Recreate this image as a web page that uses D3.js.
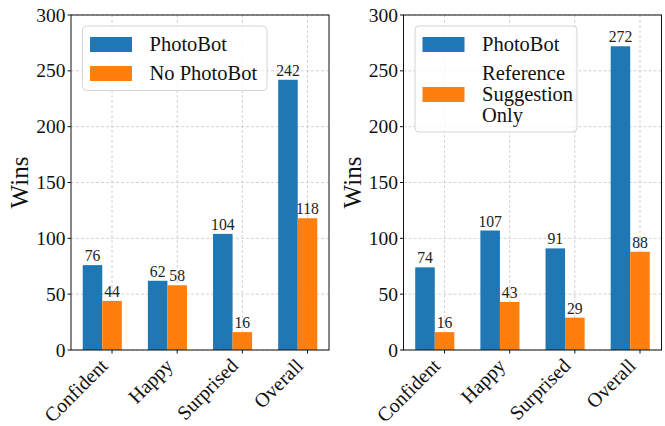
<!DOCTYPE html>
<html>
<head>
<meta charset="utf-8">
<script src="https://cdn.jsdelivr.net/npm/d3@7"></script>
<style>
  html, body { margin: 0; padding: 0; background: #fff; }
  svg { display: block; }
</style>
</head>
<body>
<div id="chart"></div>
<script>
// data
const categories = ['Confident', 'Happy', 'Surprised', 'Overall'];
const photoBotA = [76, 62, 104, 242];
const noPhotoBot = [44, 58, 16, 118];
const photoBotB = [74, 107, 91, 272];
const refSuggestion = [16, 43, 29, 88];
const yTicks = [0, 50, 100, 150, 200, 250, 300];

const panels = [
  { left: 71, series: [photoBotA, noPhotoBot], labels: [['PhotoBot'], ['No PhotoBot']] },
  { left: 403.5, series: [photoBotB, refSuggestion], labels: [['PhotoBot'], ['Reference', 'Suggestion', 'Only']] }
];

const width = 665;
const height = 426;
const plotW = 258;
const plotTop = 15;
const plotBottom = 350;
const barW = 0.3;
const colors = ['#1f77b4', '#ff7f0e'];
const font = "'Liberation Serif', 'DejaVu Serif', serif";

const svg = d3.select('#chart').append('svg')
  .attr('width', width)
  .attr('height', height)
  .attr('font-family', font);

const y = d3.scaleLinear().domain([0, 300]).range([plotBottom, plotTop]);

panels.forEach(p => {
  const x = d3.scaleLinear().domain([-0.33, 3.63]).range([p.left, p.left + plotW]);
  const g = svg.append('g');

  // grid
  g.append('g').selectAll('line').data(yTicks).enter().append('line')
    .attr('x1', p.left).attr('x2', p.left + plotW)
    .attr('y1', d => y(d)).attr('y2', d => y(d))
    .attr('stroke', '#c8c8c8').attr('stroke-width', 0.8).attr('stroke-dasharray', '3,2');
  g.append('g').selectAll('line').data(categories).enter().append('line')
    .attr('x1', (d, i) => x(i + barW)).attr('x2', (d, i) => x(i + barW))
    .attr('y1', plotTop).attr('y2', plotBottom)
    .attr('stroke', '#c8c8c8').attr('stroke-width', 0.8).attr('stroke-dasharray', '3,2');

  // bars
  p.series.forEach((vals, s) => {
    g.append('g').selectAll('rect').data(vals).enter().append('rect')
      .attr('x', (d, i) => x(i + s * barW - barW / 2))
      .attr('width', x(barW) - x(0))
      .attr('y', d => y(d))
      .attr('height', d => plotBottom - y(d))
      .attr('fill', colors[s]);

    g.append('g').selectAll('text').data(vals).enter().append('text')
      .attr('x', (d, i) => x(i + s * barW))
      .attr('y', d => y(d) - 4)
      .attr('text-anchor', 'middle')
      .attr('font-size', 15.7)
      .attr('fill', '#222')
      .text(d => d);
  });

  // frame
  g.append('rect')
    .attr('x', p.left).attr('y', plotTop)
    .attr('width', plotW).attr('height', plotBottom - plotTop)
    .attr('fill', 'none').attr('stroke', '#111').attr('stroke-width', 1);

  // y axis ticks
  const yt = g.append('g').selectAll('g').data(yTicks).enter().append('g');
  yt.append('line')
    .attr('x1', p.left - 3.5).attr('x2', p.left)
    .attr('y1', d => y(d)).attr('y2', d => y(d))
    .attr('stroke', '#111');
  yt.append('text')
    .attr('x', p.left - 5.5)
    .attr('y', d => y(d))
    .attr('dy', '0.34em')
    .attr('text-anchor', 'end')
    .attr('font-size', 19.5)
    .attr('fill', '#111')
    .text(d => d);

  // x axis ticks
  const xt = g.append('g').selectAll('g').data(categories).enter().append('g');
  xt.append('line')
    .attr('x1', (d, i) => x(i + barW)).attr('x2', (d, i) => x(i + barW))
    .attr('y1', plotBottom).attr('y2', plotBottom + 3.5)
    .attr('stroke', '#111');
  xt.append('text')
    .attr('text-anchor', 'end')
    .attr('font-size', 20)
    .attr('fill', '#111')
    .attr('transform', (d, i) => `translate(${x(i + barW) - 3},${plotBottom + 17}) rotate(-45)`)
    .text(d => d);

  // y label
  g.append('text')
    .attr('transform', `translate(${p.left - 43},${(plotTop + plotBottom) / 2}) rotate(-90)`)
    .attr('text-anchor', 'middle')
    .attr('font-size', 25)
    .attr('fill', '#111')
    .text('Wins');

  // legend
  const lineH = 21;
  const legH = p.labels[1].length > 1 ? 106 : 64.5;
  const legW = p.labels[1].length > 1 ? 162 : 184.5;
  const lg = g.append('g').attr('transform', `translate(${p.left + 11.5},${plotTop + 11})`);
  lg.append('rect')
    .attr('width', legW).attr('height', legH)
    .attr('rx', 4)
    .attr('fill', 'white').attr('fill-opacity', 0.8)
    .attr('stroke', '#d5d5d5').attr('stroke-width', 1);

  let yy = 8;
  p.labels.forEach((lines, s) => {
    const blockH = lines.length * lineH;
    const cy = yy + blockH / 2;
    lg.append('rect')
      .attr('x', 7.5).attr('y', cy - 7.5)
      .attr('width', 42).attr('height', 15)
      .attr('fill', colors[s]);
    lines.forEach((t, k) => {
      lg.append('text')
        .attr('x', 67)
        .attr('y', yy + k * lineH + lineH / 2)
        .attr('dy', '0.34em')
        .attr('font-size', 20.5)
        .attr('fill', '#111')
        .text(t);
    });
    yy += blockH + 8;
  });
});
</script>
</body>
</html>
